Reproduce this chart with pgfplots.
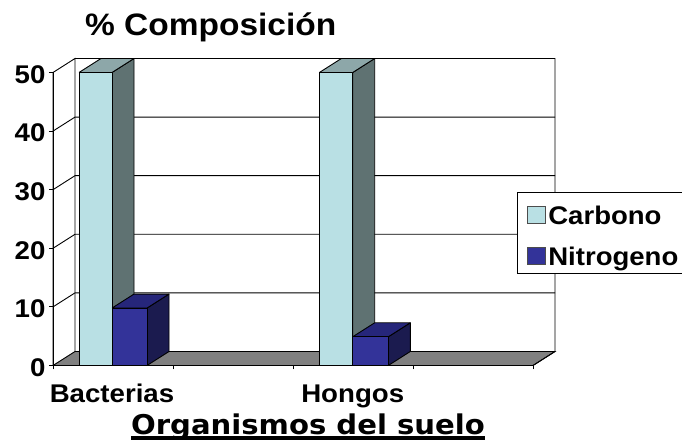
\documentclass[border=0pt]{standalone}
\usepackage{pgfplots}
\usepackage{fontspec}
\pgfplotsset{compat=1.18}
\setmainfont[FakeStretch=1.08]{Liberation Sans}
\newfontfamily\verdanalike[FakeStretch=1.07]{DejaVu Sans}
\definecolor{carbono}{HTML}{B9E0E4}
\definecolor{carbonotop}{HTML}{8DA7A9}
\definecolor{carbonoside}{HTML}{5F7272}
\definecolor{nitrogeno}{HTML}{333399}
\definecolor{nitrogenotop}{HTML}{26267A}
\definecolor{nitrogenoside}{HTML}{1B1B4F}
\pgfplotsset{
  face/.style={draw=black, line width=0.9pt, line join=round, fill=#1},
  wall/.style={draw=black, line width=0.9pt, forget plot},
}
\begin{document}
\begin{tikzpicture}[x=1pt,y=1pt]
\path[use as bounding box] (0,0) rectangle (682,441);
\begin{axis}[
  at={(53pt,75.5pt)}, anchor=south west,
  scale only axis, width=502pt, height=307pt,
  xmin=0, xmax=4.1833, ymin=0, ymax=52.39,
  axis x line=bottom, axis y line=left,
  axis line style={draw=none},
  clip=false,
  tick align=outside, major tick length=4pt,
  tick style={black, line width=0.9pt},
  xtick={0,1,2,3,4}, xticklabels={},
  extra x ticks={0.4917,2.4975},
  extra x tick labels={Bacterias,Hongos},
  extra x tick style={major tick length=0pt, tick style={draw=none},
    xticklabel style={anchor=base, yshift=-37pt}},
  ytick={0,10,20,30,40,50},
  /pgf/number format/assume math mode=true,
  tick label style={font=\fontsize{25.6}{28}\selectfont\bfseries},
  yticklabel style={xshift=0pt, yshift=-2pt},
  legend style={
    at={(0.9243,0.565)}, anchor=north west,
    draw=black, line width=0.9pt, fill=white,
    font=\fontsize{25.5}{28}\selectfont\bfseries,
    inner xsep=10pt, inner ysep=8.5pt, row sep=17pt,
    /tikz/every even column/.append style={column sep=12pt},
  },
  legend cell align=left,
  legend image code/.code={
    \draw[#1, line width=0.9pt] (0pt,-11pt) rectangle (18pt,6pt);
  },
]
% floor
\addplot[wall, fill=gray!100!black] coordinates {(0,0) (4,0) (4.1833,2.39) (0.1833,2.39) (0,0)};
% back and side walls
\addplot[wall] coordinates {(0,0) (0,50) (0.1833,52.39) (0.1833,2.39)};
\addplot[wall] coordinates {(0.1833,52.39) (4.1833,52.39) (4.1833,2.39) (4,0)};
% grid lines on the walls
\addplot[wall] coordinates {(0,10) (0.1833,12.39) (4.1833,12.39)};
\addplot[wall] coordinates {(0,20) (0.1833,22.39) (4.1833,22.39)};
\addplot[wall] coordinates {(0,30) (0.1833,32.39) (4.1833,32.39)};
\addplot[wall] coordinates {(0,40) (0.1833,42.39) (4.1833,42.39)};
% Bacterias, carbono = 50
\addplot[face=carbonoside, forget plot] coordinates {(0.4917,0) (0.675,2.39) (0.675,52.39) (0.4917,50) (0.4917,0)};
\addplot[face=carbonotop, forget plot] coordinates {(0.2167,50) (0.4917,50) (0.675,52.39) (0.4,52.39) (0.2167,50)};
\addplot[face=carbono, forget plot] coordinates {(0.2167,0) (0.4917,0) (0.4917,50) (0.2167,50) (0.2167,0)};
% Bacterias, nitrogeno = 9.8
\addplot[face=nitrogenoside, forget plot] coordinates {(0.7833,0) (0.9667,2.39) (0.9667,12.19) (0.7833,9.8) (0.7833,0)};
\addplot[face=nitrogenotop, forget plot] coordinates {(0.4917,9.8) (0.7833,9.8) (0.9667,12.19) (0.675,12.19) (0.4917,9.8)};
\addplot[face=nitrogeno, forget plot] coordinates {(0.4917,0) (0.7833,0) (0.7833,9.8) (0.4917,9.8) (0.4917,0)};
% Hongos, carbono = 50
\addplot[face=carbonoside, forget plot] coordinates {(2.4975,0) (2.6808,2.39) (2.6808,52.39) (2.4975,50) (2.4975,0)};
\addplot[face=carbonotop, forget plot] coordinates {(2.22,50) (2.4975,50) (2.6808,52.39) (2.4033,52.39) (2.22,50)};
\addplot[face=carbono, forget plot] coordinates {(2.22,0) (2.4975,0) (2.4975,50) (2.22,50) (2.22,0)};
% Hongos, nitrogeno = 4.9
\addplot[face=nitrogenoside, forget plot] coordinates {(2.7942,0) (2.9775,2.39) (2.9775,7.29) (2.7942,4.9) (2.7942,0)};
\addplot[face=nitrogenotop, forget plot] coordinates {(2.4975,4.9) (2.7942,4.9) (2.9775,7.29) (2.6808,7.29) (2.4975,4.9)};
\addplot[face=nitrogeno, forget plot] coordinates {(2.4975,0) (2.7942,0) (2.7942,4.9) (2.4975,4.9) (2.4975,0)};
% front edges of the box
\addplot[wall] coordinates {(0,50) (0,0) (4,0)};
\addlegendimage{fill=carbono, draw=black!70}
\addlegendentry{\raisebox{-4pt}[18pt][7pt]{Carbono}}
\addlegendimage{fill=nitrogeno, draw=black!70}
\addlegendentry{\raisebox{-4pt}[18pt][7pt]{Nitrogeno}\hspace{8pt}}
\end{axis}
\node[anchor=base west, inner sep=0pt, font=\fontsize{31}{34}\selectfont\bfseries] at (85,405) {\% Composición};
\node[anchor=base, inner sep=0pt, font=\fontsize{27.2}{30}\selectfont\bfseries\verdanalike] (u) at (308,6.5) {Organismos del suelo};
\fill[black] (131,1) rectangle (485,5);
\end{tikzpicture}
\end{document}
